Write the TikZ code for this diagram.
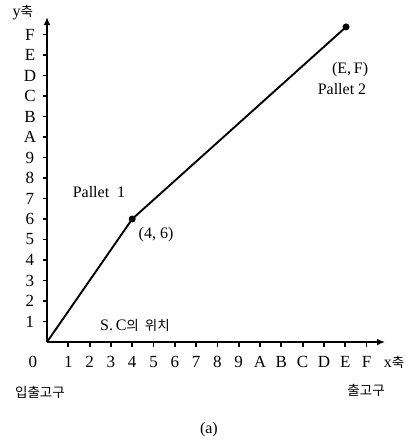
\documentclass[tikz,border=0pt]{standalone}
\usepackage{fontspec}
\setmainfont{Liberation Serif}
\newfontfamily\kr{Noto Sans CJK KR}
\usetikzlibrary{arrows.meta,positioning}
\tikzset{
  axisline/.style ={line width=2.2pt,-{Latex[length=2.8mm,width=2.4mm]}},
  route/.style    ={line width=1.9pt},
  tickmark/.style ={line width=1.8pt},
  dot/.style      ={circle,fill=black,inner sep=0pt,minimum size=7pt},
  num/.style      ={font=\fontsize{17}{19}\selectfont,inner sep=1pt},
  lbl/.style      ={font=\fontsize{16}{18}\selectfont,inner sep=1pt},
  hang/.style     ={font=\kr\fontsize{13.5}{15}\selectfont,inner sep=1pt},
}
\begin{document}
\begin{tikzpicture}[x=21.3pt, y=20.5pt]
\useasboundingbox (-2.207,-4.829) rectangle (16.854,16.683);

% axes
\coordinate (origin) at (0,0);
\coordinate (xend) at (15.87,0);
\coordinate (yend) at (0,15.85);
\draw[axisline] (origin) -- (xend);
\draw[axisline] (origin) -- (yend);

% ticks and tick labels
\foreach \i/\t in {1/1,2/2,3/3,4/4,5/5,6/6,7/7,8/8,9/9,10/A,11/B,12/C,13/D,14/E,15/F}{
  \draw[tickmark] (\i,0) -- (\i,-0.24);
  \node[num] (xl\i) at (\i,-0.98) {\t};
  \draw[tickmark] (0,\i) -- (-0.2,\i);
  \node[num] (yl\i) at (-0.8,\i) {\t};
}
\node[num] (zero) at (-0.66,-0.98) {0};
\node[lbl] (ylab) at (-1.13,16.05) {y{\kr\fontsize{13.5}{15}\selectfont 축}};
\node[lbl] (xlab) at (16.29,-0.98) {x{\kr\fontsize{13.5}{15}\selectfont 축}};

% route of the S/C
\node[dot] (p1) at (4,6) {};
\node[dot] (p2) at (14.04,15.37) {};
\draw[route] (origin) -- (p1.center) -- (p2.center);

\node[lbl] (pal1) at (2.44,7.32) {Pallet\ \ 1};
\node[lbl] (c1) at (5.12,5.22) {(4,\ 6)};
\node[lbl] (c2) at (14.23,13.27) {(E,\,F)};
\node[lbl] (pal2) at (13.85,12.34) {Pallet 2};
\node[lbl] (sc) at (4.13,0.83) {S.\,C{\kr\fontsize{13.5}{15}\selectfont 의\ \ 위치}};

\node[hang] (inout) at (-0.33,-2.44) {입출고구};
\node[hang] (out) at (14.98,-2.34) {출고구};
\node[lbl] (cap) at (7.6,-4.29) {(a)};
\end{tikzpicture}
\end{document}
